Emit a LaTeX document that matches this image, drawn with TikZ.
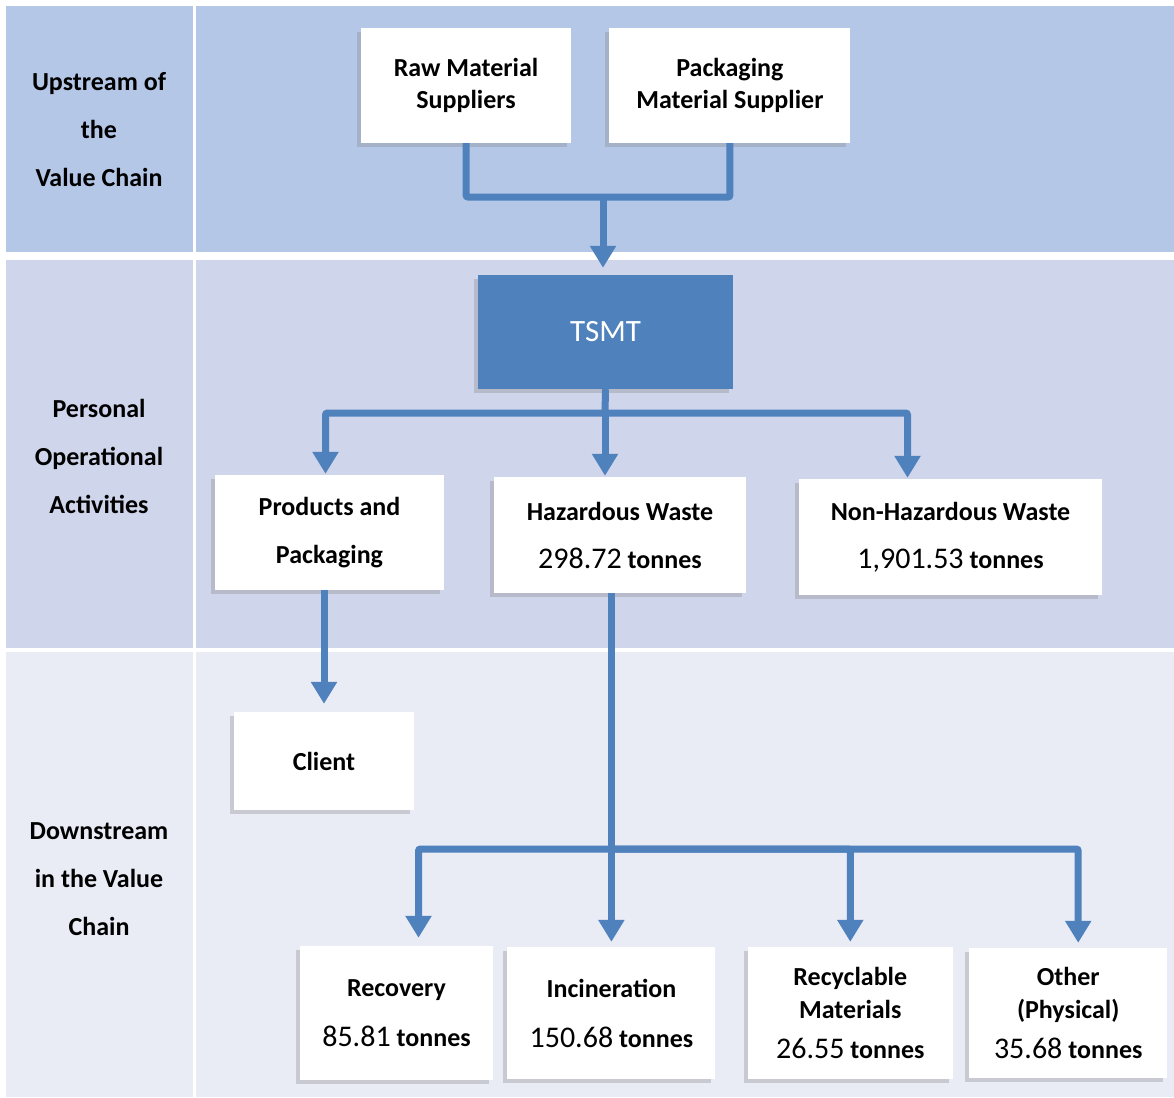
\documentclass[tikz,border=0pt]{standalone}
\usepackage{fontspec}
\setmainfont{Carlito}
\usetikzlibrary{arrows.meta, positioning, shadows}
\definecolor{upband}{RGB}{180, 199, 231}
\definecolor{opband}{RGB}{207, 213, 234}
\definecolor{downband}{RGB}{233, 235, 245}
\definecolor{chainblue}{RGB}{79, 129, 189}
\newcommand{\amount}[1]{{\fontsize{30}{36}\selectfont\mdseries #1} tonnes}
\tikzset{
  >=Stealth,
  linkline/.style={line width=7pt, chainblue, rounded corners=2pt},
  flowarrow/.style={-{Triangle[length=22pt, width=25pt]}, line width=7pt, chainblue, rounded corners=2pt, shorten >=5pt}
}

\begin{document}
\begin{tikzpicture}[
    x=1pt, y=-1pt,
    wbox/.style={rectangle, fill=white, inner sep=0pt, align=center, font=\fontsize{26}{48}\selectfont\bfseries, drop shadow={shadow xshift=-4pt, shadow yshift=-4pt, opacity=0.3}},
    rowlabel/.style={align=center, font=\fontsize{26}{48}\selectfont\bfseries}
]
    \useasboundingbox[fill=white] (0,0) rectangle (1174,1097);

    % Bands
    \fill[upband] (6,6) rectangle (193,252);
    \fill[upband] (196,6) rectangle (1174,252);
    \fill[opband] (6,260) rectangle (193,648);
    \fill[opband] (196,260) rectangle (1174,648);
    \fill[downband] (6,652) rectangle (193,1097);
    \fill[downband] (196,652) rectangle (1174,1097);

    % Row labels
    \node[rowlabel] (upstream) at (99,130) {Upstream of\\the\\Value Chain};
    \node[rowlabel] (personal) at (99,456) {Personal\\Operational\\Activities};
    \node[rowlabel] (downstream) at (99,879) {Downstream\\in the Value\\Chain};

    % Boxes
    \node[wbox, font=\fontsize{26}{32}\selectfont\bfseries, minimum width=210pt, minimum height=115pt] (raw) at (466,85.5) {Raw Material\\Suppliers};
    \node[wbox, font=\fontsize{26}{32}\selectfont\bfseries, minimum width=241pt, minimum height=115pt, right=38pt of raw] (pack) {Packaging\\Material Supplier};
    \node[wbox, fill=chainblue, text=white, font=\fontsize{31}{36}\selectfont, minimum width=255pt, minimum height=114pt] (tsmt) at (605.5,332) {TSMT};
    \node[wbox, minimum width=229pt, minimum height=115pt] (prod) at (329.5,532.5) {Products and\\Packaging};
    \node[wbox, minimum width=252pt, minimum height=116pt] (haz) at (620,535) {Hazardous Waste\\\amount{298.72}};
    \node[wbox, minimum width=303pt, minimum height=116pt] (nonhaz) at (950.5,537) {Non-Hazardous Waste\\\amount{1,901.53}};
    \node[wbox, minimum width=180pt, minimum height=98pt] (client) at (324,761) {Client};
    \node[wbox, font=\fontsize{26}{50}\selectfont\bfseries, minimum width=193pt, minimum height=134pt] (rec) at (396.5,1013) {Recovery\\\amount{85.81}};
    \node[wbox, font=\fontsize{26}{50}\selectfont\bfseries, minimum width=208pt, minimum height=132pt, right=14pt of rec] (inc) {Incineration\\\amount{150.68}};
    \node[wbox, font=\fontsize{26}{33}\selectfont\bfseries, minimum width=205pt, minimum height=132pt, right=32pt of inc] (recyc) {Recyclable\\Materials\\[7pt]\amount{26.55}};
    \node[wbox, font=\fontsize{26}{33}\selectfont\bfseries, minimum width=198pt, minimum height=130pt, right=16pt of recyc] (other) {Other\\(Physical)\\[7pt]\amount{35.68}};

    % Connectors
    \coordinate (upjoin) at (603,197);
    \coordinate (opjoin) at (605,413);
    \coordinate (hzjoin) at (611,849);
    \draw[linkline] (raw.south) |- (upjoin) -| (pack.south);
    \draw[flowarrow, shorten >=7pt] (upjoin) -- (upjoin |- tsmt.north);
    \draw[linkline] (tsmt.south) -- (opjoin);
    \draw[flowarrow, shorten >=1pt] (opjoin) -| ([xshift=-4pt]prod.north);
    \draw[flowarrow, shorten >=1pt] (opjoin) -- (opjoin |- haz.north);
    \draw[flowarrow, shorten >=1pt] (opjoin) -| ([xshift=-43pt]nonhaz.north);
    \draw[flowarrow, shorten >=8pt] (client.north |- prod.south) -- (client.north);
    \draw[flowarrow] (inc.north |- haz.south) -- (inc.north);
    \draw[flowarrow, shorten >=8pt] (hzjoin) -| ([xshift=22pt]rec.north);
    \draw[flowarrow] (hzjoin) -| (recyc.north);
    \draw[flowarrow] (hzjoin) -| ([xshift=10pt]other.north);
\end{tikzpicture}
\end{document}
